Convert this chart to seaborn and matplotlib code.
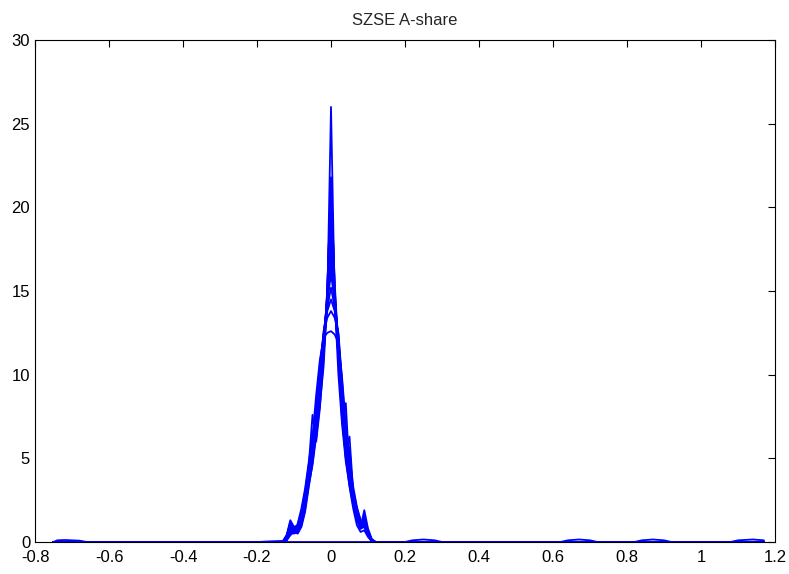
import numpy as np
import pandas as pd
import matplotlib
matplotlib.use("Agg")
import matplotlib.pyplot as plt
import seaborn as sns

title = "SZSE A-share"
x_ticks = [-0.8, -0.6, -0.4, -0.2, 0, 0.2, 0.4, 0.6, 0.8, 1, 1.2]
x_tick_labels = ["-0.8", "-0.6", "-0.4", "-0.2", "0", "0.2", "0.4", "0.6", "0.8", "1", "1.2"]
y_ticks = [0, 5, 10, 15, 20, 25, 30]

# common evaluation grid of the density curves (returns)
x_grid = [-0.75, -0.20, -0.13, -0.12, -0.11, -0.10, -0.09, -0.08, -0.07, -0.06, -0.05,
          -0.04, -0.03, -0.02, -0.01, 0.00, 0.01, 0.02, 0.03, 0.04, 0.05,
          0.06, 0.07, 0.08, 0.09, 0.10, 0.11, 0.12, 0.13, 0.20, 1.17]

# density estimates, one list per period
curve_01 = [0, 0, 0, 0.2, 1.0, 0.7, 0.6, 1.0, 2.0, 3.4, 4.6, 6.3, 8.2, 10.5, 14.5, 26.0, 14.5, 10.0, 7.0, 4.8, 3.4, 2.2, 1.3, 0.8, 0.9, 0.4, 0.1, 0, 0, 0, 0]
curve_02 = [0, 0, 0, 0.3, 1.2, 0.8, 0.7, 1.3, 2.6, 4.6, 7.6, 6.0, 8.0, 11.0, 15.0, 21.8, 15.0, 11.0, 7.4, 5.0, 3.3, 2.0, 1.0, 0.6, 0.7, 0.3, 0.05, 0, 0, 0, 0]
curve_03 = [0, 0, 0, 0.2, 0.8, 0.6, 0.5, 0.9, 1.8, 3.3, 4.7, 6.6, 8.6, 11.2, 15.2, 21.5, 15.5, 11.5, 7.2, 8.3, 4.2, 2.5, 1.3, 0.9, 1.9, 0.8, 0.2, 0, 0, 0, 0]
curve_04 = [0, 0, 0.05, 0.4, 1.3, 0.9, 0.8, 1.3, 2.4, 3.8, 5.2, 6.8, 8.8, 11.2, 14.8, 20.5, 14.8, 11.0, 7.6, 6.3, 4.2, 2.5, 1.5, 0.9, 1.5, 0.6, 0.1, 0, 0, 0, 0]
curve_05 = [0, 0, 0, 0.3, 1.0, 0.7, 0.8, 1.4, 2.5, 4.0, 6.5, 6.2, 9.0, 11.3, 14.3, 19.5, 14.2, 11.0, 7.8, 5.4, 3.8, 2.4, 1.4, 0.8, 1.1, 0.5, 0.1, 0, 0, 0, 0]
curve_06 = [0, 0, 0, 0.1, 0.6, 0.5, 0.6, 1.1, 2.2, 3.6, 5.0, 6.8, 9.2, 11.8, 14.5, 18.5, 14.5, 11.5, 8.0, 5.4, 3.9, 2.5, 1.5, 0.9, 1.0, 0.4, 0.05, 0, 0, 0, 0]
curve_07 = [0, 0, 0, 0.2, 0.9, 0.8, 0.9, 1.5, 2.7, 4.2, 5.4, 7.2, 9.4, 11.8, 14.2, 17.8, 14.0, 11.6, 8.2, 5.7, 4.1, 2.8, 1.7, 1.0, 1.2, 0.5, 0.1, 0, 0, 0, 0]
curve_08 = [0, 0, 0, 0.3, 1.1, 0.9, 1.0, 1.6, 2.9, 4.4, 5.7, 7.4, 9.6, 12.0, 14.4, 17.0, 14.3, 11.8, 8.3, 5.6, 3.9, 2.5, 1.6, 1.0, 1.3, 0.6, 0.1, 0, 0, 0, 0]
curve_09 = [0, 0, 0, 0.1, 0.7, 0.6, 0.7, 1.2, 2.4, 3.8, 5.2, 7.0, 9.4, 12.2, 14.6, 16.5, 14.6, 12.2, 8.5, 5.8, 6.3, 3.0, 1.6, 0.9, 1.6, 0.7, 0.1, 0, 0, 0, 0]
curve_10 = [0, 0, 0, 0.2, 0.8, 0.7, 0.9, 1.5, 2.6, 4.1, 5.4, 7.3, 9.8, 12.4, 14.4, 16.0, 14.4, 12.0, 8.7, 6.0, 4.3, 2.9, 1.8, 1.1, 1.2, 0.5, 0.1, 0, 0, 0, 0]
curve_11 = [0, 0, 0.05, 0.4, 1.0, 0.8, 1.0, 1.7, 2.9, 4.4, 5.7, 7.6, 10.0, 12.4, 14.0, 15.2, 14.0, 12.2, 8.9, 6.1, 4.4, 2.8, 1.7, 1.0, 1.1, 0.4, 0.05, 0, 0, 0, 0]
curve_12 = [0, 0, 0, 0.2, 0.6, 0.6, 0.9, 1.6, 2.8, 4.3, 5.8, 7.8, 10.3, 12.6, 13.8, 14.5, 13.8, 12.4, 9.2, 6.3, 4.5, 3.0, 1.9, 1.2, 1.3, 0.5, 0.1, 0, 0, 0, 0]
curve_13 = [0, 0, 0, 0.1, 0.5, 0.6, 1.0, 1.8, 3.0, 4.6, 6.0, 8.2, 10.6, 12.4, 13.4, 13.8, 13.4, 12.5, 9.6, 6.6, 4.7, 3.1, 2.0, 1.3, 1.2, 0.5, 0.1, 0, 0, 0, 0]
curve_14 = [0, 0, 0, 0.1, 0.4, 0.6, 1.1, 2.0, 3.2, 4.8, 6.3, 8.8, 10.9, 12.2, 12.5, 12.6, 12.4, 11.9, 9.8, 7.0, 5.0, 3.3, 2.1, 1.3, 1.0, 0.4, 0.1, 0, 0, 0, 0]
curve_15 = [0, 0, 0, 0.3, 1.1, 0.8, 0.7, 1.2, 2.3, 3.7, 5.0, 6.9, 8.9, 11.4, 15.0, 21.7, 15.2, 11.2, 7.5, 5.1, 3.6, 2.3, 1.3, 0.8, 1.0, 0.4, 0.1, 0, 0, 0, 0]
curve_16 = [0, 0, 0, 0.2, 0.9, 0.7, 0.7, 1.2, 2.4, 3.9, 5.2, 6.9, 9.0, 11.5, 14.6, 20.0, 14.6, 11.3, 7.7, 5.3, 3.9, 2.5, 1.4, 0.9, 1.4, 0.6, 0.1, 0, 0, 0, 0]
curve_17 = [0, 0, 0, 0.2, 0.8, 0.7, 0.8, 1.4, 2.5, 4.0, 5.3, 7.1, 9.2, 11.6, 14.4, 19.0, 14.4, 11.4, 7.9, 5.5, 4.0, 2.6, 1.5, 0.9, 1.3, 0.5, 0.1, 0, 0, 0, 0]
curve_18 = [0, 0, 0, 0.3, 1.0, 0.8, 0.9, 1.5, 2.7, 4.2, 5.5, 7.3, 9.5, 11.9, 14.3, 18.0, 14.2, 11.7, 8.2, 5.7, 4.1, 2.7, 1.6, 1.0, 1.2, 0.5, 0.1, 0, 0, 0, 0]
curve_19 = [0, 0, 0, 0.2, 0.7, 0.7, 0.9, 1.5, 2.6, 4.1, 5.5, 7.4, 9.6, 12.1, 14.5, 17.5, 14.5, 11.9, 8.4, 5.9, 4.2, 2.8, 1.7, 1.0, 1.4, 0.6, 0.1, 0, 0, 0, 0]
curve_20 = [0, 0, 0, 0.3, 0.9, 0.8, 0.9, 1.5, 2.8, 4.3, 5.6, 7.5, 9.7, 12.2, 14.3, 16.8, 14.3, 12.0, 8.6, 6.0, 5.6, 2.8, 1.7, 1.0, 1.3, 0.5, 0.1, 0, 0, 0, 0]

# faint far-tail densities (rare extreme returns)
tail_x = [-0.75, -0.74, -0.72, -0.70, -0.68, -0.66, 0.20, 0.22, 0.25, 0.28, 0.30, 0.62, 0.64, 0.67, 0.70, 0.72,
          0.82, 0.84, 0.87, 0.90, 0.92, 1.08, 1.10, 1.14, 1.17]
tail_y = [0.0, 0.10, 0.12, 0.10, 0.08, 0.0, 0.0, 0.10, 0.15, 0.10, 0.0, 0.0, 0.10, 0.15, 0.10, 0.0,
          0.0, 0.10, 0.15, 0.10, 0.0, 0.0, 0.10, 0.15, 0.10]

curves = [curve_01, curve_02, curve_03, curve_04, curve_05, curve_06, curve_07,
          curve_08, curve_09, curve_10, curve_11, curve_12, curve_13, curve_14,
          curve_15, curve_16, curve_17, curve_18, curve_19, curve_20]

rows = []
for i, c in enumerate(curves):
    for x, y in zip(x_grid, c):
        rows.append({"x": x, "y": y, "curve": i})
for x, y in zip(tail_x, tail_y):
    rows.append({"x": x, "y": y, "curve": len(curves)})
df = pd.DataFrame(rows)

sns.set_style("white")
plt.rcParams['font.family'] = ['Liberation Sans', 'DejaVu Sans']

fig = plt.figure(figsize=(7.89, 5.74), dpi=100)
ax = fig.add_axes([35 / 789, 1 - 542 / 574, (775 - 35) / 789, (542 - 40) / 574])

sns.lineplot(data=df, x="x", y="y", units="curve", estimator=None, sort=False,
             color=(0, 0, 1), linewidth=1.3, ax=ax, legend=False)

ax.set_xlim(-0.8, 1.2)
ax.set_ylim(0, 30)
ax.set_xticks(x_ticks)
ax.set_xticklabels(x_tick_labels)
ax.set_yticks(y_ticks)
ax.set_xlabel("")
ax.set_ylabel("")
ax.set_title(title, fontsize=12, pad=11)
for s in ax.spines.values():
    s.set_visible(True)
    s.set_color("black")
    s.set_linewidth(0.8)
ax.tick_params(direction="in", length=5, width=0.8, top=True, right=True,
               labelsize=12, colors="black")
ax.tick_params(axis="x", pad=6)
ax.tick_params(axis="y", pad=3.5)
fig.savefig("out.png", dpi=100)
